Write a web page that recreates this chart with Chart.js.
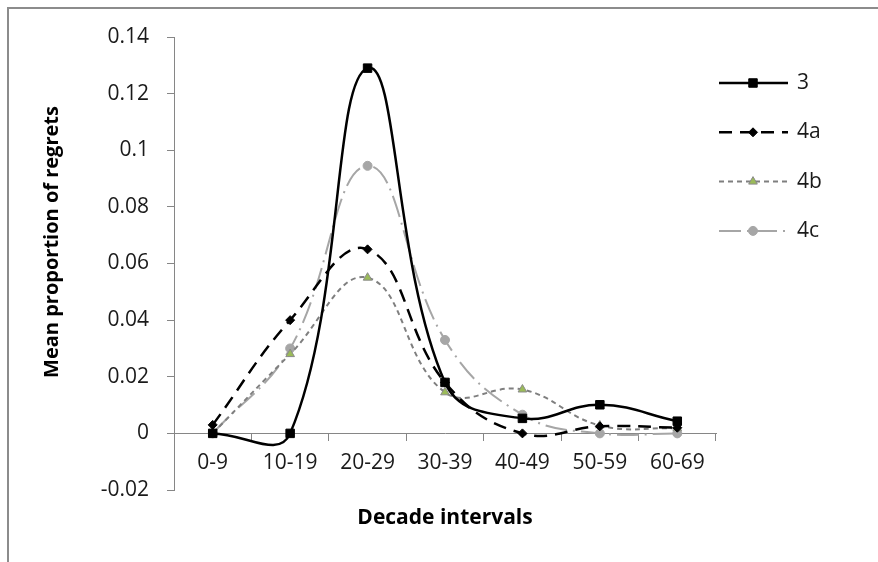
<!DOCTYPE html>
<html>
<head>
<meta charset="utf-8">
<title>Mean proportion of regrets</title>
<script src="https://cdn.jsdelivr.net/npm/chart.js@4/dist/chart.umd.min.js"></script>
<style>
  html, body { margin: 0; padding: 0; background: #fff; overflow: hidden; }
  #frame { position: absolute; left: 7px; top: 7px; width: 900px; height: 600px; border: 2px solid #8c8c8c; }
  #wrap { position: absolute; left: 0; top: 0; width: 878px; height: 562px; }
</style>
</head>
<body>
<div id="frame"></div>
<div id="wrap"><canvas id="regretChart" width="878" height="562"></canvas></div>
<script>
// Dados
const decades = ['0-9', '10-19', '20-29', '30-39', '40-49', '50-59', '60-69'];
const serie3  = [0, 0, 0.129, 0.018, 0.0053, 0.0101, 0.0043];
const serie4a = [0.003, 0.040, 0.065, 0.018, 0, 0.0025, 0.002];
const serie4b = [0, 0.028, 0.055, 0.0145, 0.0155, 0.0028, 0.0018];
const serie4c = [0, 0.030, 0.0945, 0.033, 0.0066, 0, 0];
const yTicks = [-0.02, 0, 0.02, 0.04, 0.06, 0.08, 0.1, 0.12, 0.14];
const yTickLabels = ['-0.02', '0', '0.02', '0.04', '0.06', '0.08', '0.1', '0.12', '0.14'];

const tickFont = { family: "'Open Sans', sans-serif", size: 21 };
const titleFont = { family: "'Open Sans', sans-serif", size: 21, weight: 'bold' };
const axisGray = '#868686';
const textColor = '#1a1a1a';

// Título do eixo Y e legenda ao lado
const sideText = {
    id: 'sideText',
    afterDraw(chart) {
        const ctx = chart.ctx;
        const area = chart.chartArea;

        ctx.save();
        ctx.translate(52, 242);
        ctx.rotate(-Math.PI / 2);
        ctx.font = "bold 20px 'Open Sans', sans-serif";
        ctx.fillStyle = '#000';
        ctx.textAlign = 'center';
        ctx.textBaseline = 'middle';
        ctx.fillText('Mean proportion of regrets', 0, 0);
        ctx.restore();

        chart.data.datasets.forEach(function (ds, i) {
            const y = 83 + i * 49.3;
            const x0 = area.right + 3;
            ctx.save();
            ctx.strokeStyle = ds.borderColor;
            ctx.lineWidth = ds.borderWidth;
            ctx.setLineDash(ds.borderDash || []);
            ctx.beginPath();
            ctx.moveTo(x0, y);
            ctx.lineTo(x0 + 69, y);
            ctx.stroke();
            ctx.setLineDash([]);
            ctx.fillStyle = ds.pointBackgroundColor;
            ctx.strokeStyle = ds.pointBorderColor;
            ctx.lineWidth = ds.pointBorderWidth;
            Chart.helpers.drawPoint(ctx, {
                pointStyle: ds.pointStyle,
                radius: ds.pointRadius,
                rotation: 0,
                borderWidth: ds.pointBorderWidth
            }, x0 + 34, y);
            ctx.fillStyle = textColor;
            ctx.font = "21px 'Open Sans', sans-serif";
            ctx.textAlign = 'left';
            ctx.textBaseline = 'middle';
            ctx.fillText(ds.label, x0 + 78, y);
            ctx.restore();
        });
    }
};

const ctx = document.getElementById('regretChart').getContext('2d');

new Chart(ctx, {
    type: 'line',
    data: {
        labels: decades,
        datasets: [
            {
                label: '3',
                data: serie3,
                borderColor: '#000000',
                borderWidth: 2.5,
                pointStyle: 'rect',
                pointRadius: 6,
                pointBackgroundColor: '#000000',
                pointBorderColor: '#000000',
                pointBorderWidth: 1
            },
            {
                label: '4a',
                data: serie4a,
                borderColor: '#000000',
                borderWidth: 2.5,
                borderDash: [13, 8],
                pointStyle: 'rectRot',
                pointRadius: 4.5,
                pointBackgroundColor: '#000000',
                pointBorderColor: '#000000',
                pointBorderWidth: 1
            },
            {
                label: '4b',
                data: serie4b,
                borderColor: '#7f7f7f',
                borderWidth: 2,
                borderDash: [5, 4],
                pointStyle: 'triangle',
                pointRadius: 5,
                pointBackgroundColor: '#9bbb59',
                pointBorderColor: '#8a8a8a',
                pointBorderWidth: 1
            },
            {
                label: '4c',
                data: serie4c,
                borderColor: '#a6a6a6',
                borderWidth: 2,
                borderDash: [22, 6, 2, 6],
                pointStyle: 'circle',
                pointRadius: 4.5,
                pointBackgroundColor: '#a6a6a6',
                pointBorderColor: '#a6a6a6',
                pointBorderWidth: 1
            }
        ]
    },
    options: {
        responsive: false,
        animation: false,
        layout: { padding: { left: 0, top: 37, right: 162, bottom: 72 } },
        elements: { line: { tension: 0.42 } },
        plugins: {
            legend: { display: false },
            tooltip: { enabled: false }
        },
        scales: {
            x: {
                type: 'category',
                position: { y: 0 },
                offset: true,
                grid: { offset: true, drawOnChartArea: false, drawTicks: true, tickLength: 7, color: axisGray },
                border: { color: axisGray, width: 1 },
                ticks: { font: tickFont, color: textColor, padding: 10, maxRotation: 0, autoSkip: false },
                title: { display: true, text: 'Decade intervals', font: titleFont, color: '#000', padding: { top: 20, bottom: 0 } }
            },
            y: {
                min: -0.02,
                max: 0.14,
                afterBuildTicks: function (scale) {
                    scale.ticks = yTicks.map(function (v) { return { value: v }; });
                },
                afterFit: function (scale) { scale.width = 174; },
                grid: { drawOnChartArea: false, drawTicks: true, tickLength: 7, color: axisGray },
                border: { color: axisGray, width: 1 },
                ticks: {
                    font: tickFont,
                    color: textColor,
                    padding: 18,
                    callback: function (value) {
                        const i = yTicks.findIndex(function (t) { return Math.abs(t - value) < 1e-9; });
                        return i >= 0 ? yTickLabels[i] : '';
                    }
                }
            }
        }
    },
    plugins: [sideText]
});
</script>
</body>
</html>
